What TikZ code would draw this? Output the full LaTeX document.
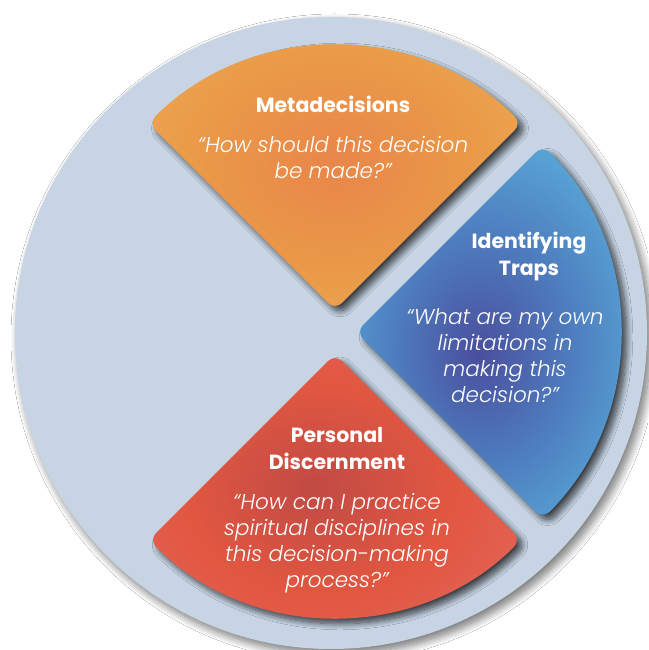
\documentclass[tikz,border=0pt]{standalone}
\usepackage{fontspec}
\setmainfont{Poppins}
\newfontfamily\quotefont{Poppins}[UprightFont=* Light, ItalicFont=* Light Italic]
\usetikzlibrary{shadows.blur}
\definecolor{wheelgray}{HTML}{C6D4E4}
\definecolor{orangein}{HTML}{E8864A}
\definecolor{orangemid}{HTML}{EA9B48}
\definecolor{orangeout}{HTML}{EEB362}
\definecolor{bluein}{HTML}{4A4E9C}
\definecolor{bluemid}{HTML}{4E7FBF}
\definecolor{blueout}{HTML}{5BB0DE}
\definecolor{redin}{HTML}{C14A44}
\definecolor{redmid}{HTML}{E15741}
\definecolor{redout}{HTML}{E56B63}
\pgfdeclareradialshading{orangeglow}{\pgfpoint{0bp}{0bp}}{color(0bp)=(orangein); color(20bp)=(orangemid); color(42bp)=(orangeout); color(72bp)=(orangeout)}
\pgfdeclareradialshading{blueglow}{\pgfpoint{-4bp}{-3bp}}{color(0bp)=(bluein); color(16bp)=(bluemid); color(32bp)=(blueout); color(72bp)=(blueout)}
\pgfdeclareradialshading{redglow}{\pgfpoint{-3bp}{2bp}}{color(0bp)=(redin); color(18bp)=(redmid); color(40bp)=(redout); color(72bp)=(redout)}
\tikzset{
    wheel/.style = {fill=wheelgray, blur shadow={shadow xshift=4pt, shadow yshift=-5pt, shadow blur steps=12, shadow blur radius=8pt, shadow opacity=55}},
    sector/.style = {rounded corners=10pt, blur shadow={shadow xshift=5pt, shadow yshift=-5pt, shadow blur steps=10, shadow blur radius=6pt, shadow opacity=70}},
    sectoro/.style = {sector, shading=orangeglow},
    sectorb/.style = {sector, shading=blueglow},
    sectorr/.style = {sector, shading=redglow},
    titletext/.style = {align=center, text=white, font=\bfseries\fontsize{20.5}{27}\selectfont},
    quotetext/.style = {align=center, text=white, font=\quotefont\itshape\fontsize{21.5}{26}\selectfont}
}

\begin{document}
\begin{tikzpicture}[x=1pt,y=1pt]
\useasboundingbox (0,0) rectangle (648,650);
\fill[white] (0,0) rectangle (648,650);

\fill[wheel] (331,317) circle (316);

\path[sectoro] (335,340) -- ++(45:264) arc[start angle=45, end angle=135, radius=264] -- cycle;
\path[sectorb] (356,318) -- ++(-45:264) arc[start angle=-45, end angle=45, radius=264] -- cycle;
\path[sectorr] (335,296) -- ++(-135:263) arc[start angle=-135, end angle=-45, radius=263] -- cycle;

\node[titletext] at (333,546) (metatitle) {Metadecisions};
\node[quotetext] at (333,492) (metaquote) {“How should this decision\\be made?”};

\node[titletext] at (529,393.5) (traptitle) {Identifying\\Traps};
\node[quotetext] at (505,294) (trapquote) {“What are my own\\limitations in\\making this\\decision?”};

\node[titletext] at (337,201.5) (persontitle) {Personal\\Discernment};
\node[quotetext] at (337,106.5) (personquote) {“How can I practice\\spiritual disciplines in\\this decision-making\\process?”};

\end{tikzpicture}
\end{document}
